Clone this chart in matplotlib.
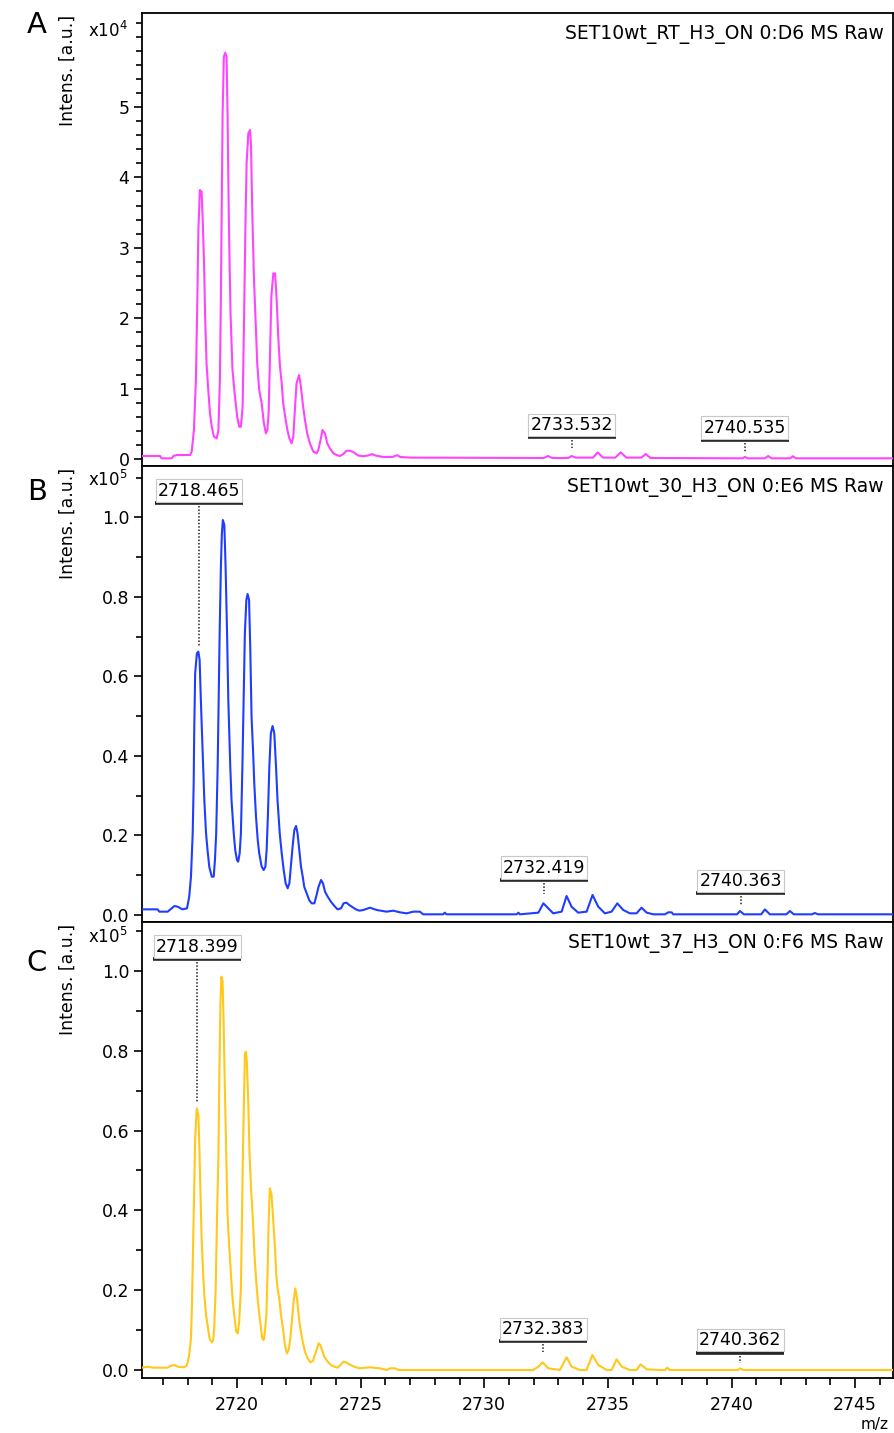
import numpy as np
import matplotlib
matplotlib.use('Agg')
import matplotlib.pyplot as plt
from matplotlib.ticker import MultipleLocator, FormatStrFormatter

# ---- spectrum A : SET10wt_RT_H3_ON 0:D6 (intensity in x10^4) ----
a_mz = [2716.16, 2716.89, 2716.95, 2717.36, 2717.43, 2717.56, 2718.10, 2718.17, 2718.26, 2718.34,
        2718.40, 2718.44, 2718.50, 2718.57, 2718.61, 2718.67, 2718.71, 2718.77, 2718.84, 2718.91,
        2718.98, 2719.07, 2719.18, 2719.25, 2719.31, 2719.35, 2719.39, 2719.42, 2719.47, 2719.53,
        2719.58, 2719.62, 2719.66, 2719.69, 2719.74, 2719.82, 2719.92, 2720.01, 2720.09, 2720.16,
        2720.23, 2720.28, 2720.34, 2720.39, 2720.46, 2720.53, 2720.57, 2720.62, 2720.69, 2720.77,
        2720.82, 2720.90, 2721.00, 2721.09, 2721.17, 2721.23, 2721.28, 2721.33, 2721.39, 2721.47,
        2721.54, 2721.60, 2721.67, 2721.74, 2721.81, 2721.87, 2721.95, 2722.04, 2722.12, 2722.21,
        2722.28, 2722.35, 2722.41, 2722.51, 2722.57, 2722.66, 2722.75, 2722.84, 2722.95, 2723.09,
        2723.22, 2723.29, 2723.38, 2723.46, 2723.56, 2723.65, 2723.76, 2723.90, 2724.03, 2724.17,
        2724.30, 2724.43, 2724.57, 2724.70, 2724.90, 2725.10, 2725.30, 2725.46, 2725.60, 2725.90,
        2726.30, 2726.47, 2726.60, 2727.00, 2732.40, 2732.58, 2732.75, 2733.40, 2733.53, 2733.70,
        2734.40, 2734.59, 2734.80, 2735.30, 2735.52, 2735.75, 2736.35, 2736.53, 2736.72, 2740.45,
        2740.54, 2740.65, 2741.35, 2741.48, 2741.62, 2742.38, 2742.48, 2742.60, 2746.53]
a_int = [0.043, 0.043, 0.010, 0.010, 0.043, 0.057, 0.057, 0.104, 0.412, 1.122,
         2.306, 3.253, 3.821, 3.797, 3.442, 2.779, 2.069, 1.359, 0.980, 0.649,
         0.459, 0.317, 0.294, 0.412, 1.122, 2.306, 3.726, 4.910, 5.715, 5.772,
         5.715, 4.910, 3.726, 3.016, 2.069, 1.264, 0.885, 0.601, 0.459, 0.459,
         0.743, 1.832, 3.253, 4.200, 4.626, 4.673, 4.437, 3.490, 2.543, 1.832,
         1.359, 0.980, 0.791, 0.507, 0.365, 0.412, 0.649, 1.359, 2.306, 2.637,
         2.637, 2.306, 1.738, 1.312, 1.075, 0.791, 0.601, 0.412, 0.294, 0.223,
         0.317, 0.743, 1.075, 1.193, 1.075, 0.791, 0.554, 0.365, 0.223, 0.104,
         0.081, 0.128, 0.270, 0.412, 0.365, 0.223, 0.152, 0.081, 0.057, 0.043,
         0.071, 0.118, 0.118, 0.100, 0.050, 0.040, 0.050, 0.070, 0.050, 0.030,
         0.030, 0.055, 0.030, 0.020, 0.015, 0.043, 0.015, 0.015, 0.043, 0.020,
         0.020, 0.095, 0.020, 0.020, 0.095, 0.020, 0.020, 0.071, 0.015, 0.010,
         0.030, 0.010, 0.010, 0.043, 0.010, 0.010, 0.040, 0.010, 0.010]

# ---- spectrum B : SET10wt_30_H3_ON 0:E6 (intensity in x10^5) ----
b_mz = [2716.16, 2716.79, 2716.86, 2717.20, 2717.47, 2717.60, 2717.80, 2717.98, 2718.07, 2718.14,
        2718.21, 2718.25, 2718.27, 2718.31, 2718.38, 2718.44, 2718.49, 2718.54, 2718.61, 2718.68,
        2718.75, 2718.81, 2718.88, 2718.98, 2719.06, 2719.11, 2719.16, 2719.22, 2719.26, 2719.30,
        2719.35, 2719.39, 2719.43, 2719.49, 2719.54, 2719.60, 2719.65, 2719.73, 2719.78, 2719.87,
        2719.93, 2720.00, 2720.05, 2720.11, 2720.16, 2720.22, 2720.27, 2720.32, 2720.38, 2720.43,
        2720.49, 2720.54, 2720.59, 2720.65, 2720.70, 2720.77, 2720.84, 2720.90, 2721.00, 2721.08,
        2721.15, 2721.20, 2721.25, 2721.31, 2721.37, 2721.44, 2721.51, 2721.58, 2721.64, 2721.73,
        2721.81, 2721.89, 2721.97, 2722.05, 2722.12, 2722.18, 2722.25, 2722.32, 2722.39, 2722.45,
        2722.52, 2722.59, 2722.66, 2722.72, 2722.82, 2722.92, 2723.02, 2723.13, 2723.22, 2723.30,
        2723.40, 2723.48, 2723.56, 2723.67, 2723.80, 2723.94, 2724.07, 2724.21, 2724.31, 2724.43,
        2724.54, 2724.68, 2724.81, 2724.95, 2725.11, 2725.38, 2725.65, 2726.05, 2726.32, 2726.59,
        2726.86, 2727.13, 2727.40, 2727.53, 2728.34, 2728.40, 2728.48, 2731.31, 2731.38, 2731.44,
        2732.19, 2732.39, 2732.59, 2732.79, 2733.13, 2733.33, 2733.53, 2733.80, 2734.14, 2734.38,
        2734.61, 2734.88, 2735.15, 2735.38, 2735.62, 2735.89, 2736.16, 2736.36, 2736.57, 2736.84,
        2737.31, 2737.44, 2737.58, 2737.64, 2740.22, 2740.34, 2740.50, 2741.20, 2741.35, 2741.55,
        2742.22, 2742.36, 2742.52, 2743.25, 2743.37, 2743.50, 2746.53]
b_int = [0.0142, 0.0142, 0.0084, 0.0084, 0.0226, 0.0209, 0.0142, 0.0168, 0.0461, 0.0964,
         0.2054, 0.3311, 0.4568, 0.6077, 0.6580, 0.6621, 0.6412, 0.5406, 0.4149, 0.2892,
         0.2054, 0.1634, 0.1215, 0.0964, 0.0964, 0.1383, 0.2054, 0.3730, 0.5406, 0.7082,
         0.8759, 0.9597, 0.9932, 0.9806, 0.8759, 0.7082, 0.5406, 0.3730, 0.2892, 0.2054,
         0.1634, 0.1383, 0.1341, 0.1551, 0.2054, 0.3730, 0.5406, 0.7082, 0.7920, 0.8071,
         0.7920, 0.6663, 0.4987, 0.4149, 0.3311, 0.2473, 0.1886, 0.1551, 0.1215, 0.1131,
         0.1215, 0.1634, 0.2473, 0.3730, 0.4568, 0.4752, 0.4568, 0.3730, 0.2892, 0.2054,
         0.1551, 0.1131, 0.0796, 0.0671, 0.0796, 0.1215, 0.1718, 0.2137, 0.2238, 0.2054,
         0.1634, 0.1215, 0.0964, 0.0712, 0.0545, 0.0377, 0.0293, 0.0293, 0.0503, 0.0712,
         0.0880, 0.0796, 0.0587, 0.0461, 0.0335, 0.0226, 0.0142, 0.0168, 0.0293, 0.0310,
         0.0251, 0.0193, 0.0142, 0.0109, 0.0126, 0.0184, 0.0126, 0.0084, 0.0109, 0.0067,
         0.0042, 0.0084, 0.0084, 0.0017, 0.0017, 0.0059, 0.0017, 0.0017, 0.0059, 0.0017,
         0.0059, 0.0293, 0.0168, 0.0042, 0.0084, 0.0478, 0.0209, 0.0059, 0.0084, 0.0503,
         0.0209, 0.0042, 0.0084, 0.0293, 0.0126, 0.0042, 0.0042, 0.0184, 0.0059, 0.0017,
         0.0017, 0.0067, 0.0067, 0.0017, 0.0017, 0.0100, 0.0017, 0.0017, 0.0140, 0.0017,
         0.0017, 0.0100, 0.0017, 0.0017, 0.0050, 0.0017, 0.0017]

# ---- spectrum C : SET10wt_37_H3_ON 0:F6 (intensity in x10^5) ----
c_mz = [2716.16, 2716.39, 2716.59, 2717.20, 2717.33, 2717.47, 2717.60, 2717.87, 2717.98, 2718.07,
        2718.14, 2718.18, 2718.22, 2718.27, 2718.31, 2718.36, 2718.38, 2718.44, 2718.48, 2718.52,
        2718.57, 2718.63, 2718.68, 2718.75, 2718.81, 2718.89, 2718.98, 2719.04, 2719.08, 2719.14,
        2719.19, 2719.25, 2719.29, 2719.33, 2719.37, 2719.42, 2719.46, 2719.51, 2719.57, 2719.62,
        2719.69, 2719.76, 2719.82, 2719.89, 2719.97, 2720.03, 2720.09, 2720.16, 2720.20, 2720.24,
        2720.28, 2720.32, 2720.36, 2720.40, 2720.46, 2720.51, 2720.57, 2720.65, 2720.71, 2720.78,
        2720.86, 2720.94, 2721.02, 2721.08, 2721.13, 2721.19, 2721.24, 2721.28, 2721.33, 2721.40,
        2721.47, 2721.54, 2721.59, 2721.64, 2721.71, 2721.78, 2721.86, 2721.94, 2722.02, 2722.09,
        2722.16, 2722.22, 2722.29, 2722.36, 2722.43, 2722.48, 2722.56, 2722.66, 2722.75, 2722.86,
        2722.97, 2723.07, 2723.15, 2723.24, 2723.30, 2723.37, 2723.44, 2723.53, 2723.67, 2723.80,
        2723.94, 2724.07, 2724.18, 2724.31, 2724.41, 2724.54, 2724.74, 2724.95, 2725.38, 2725.78,
        2726.05, 2726.19, 2726.39, 2726.52, 2731.98, 2732.19, 2732.36, 2732.59, 2733.06, 2733.33,
        2733.53, 2733.87, 2734.14, 2734.37, 2734.61, 2734.95, 2735.15, 2735.35, 2735.56, 2735.89,
        2736.16, 2736.32, 2736.57, 2737.10, 2737.31, 2737.40, 2737.51, 2740.25, 2740.36, 2740.48,
        2746.53]
c_int = [0.0058, 0.0083, 0.0058, 0.0058, 0.0108, 0.0125, 0.0083, 0.0067, 0.0125, 0.0376,
         0.0794, 0.1629, 0.2882, 0.4553, 0.5806, 0.6391, 0.6558, 0.6391, 0.5556, 0.4553,
         0.3300, 0.2464, 0.1880, 0.1378, 0.1128, 0.0794, 0.0693, 0.0752, 0.1044, 0.2047,
         0.3718, 0.5388, 0.7477, 0.9148, 0.9858, 0.9733, 0.8730, 0.7059, 0.5388, 0.3885,
         0.3049, 0.2381, 0.1796, 0.1378, 0.0961, 0.0919, 0.1211, 0.2047, 0.3718, 0.5388,
         0.6642, 0.7895, 0.7978, 0.7728, 0.6642, 0.5388, 0.4553, 0.3718, 0.2882, 0.2214,
         0.1629, 0.1211, 0.0794, 0.0752, 0.0961, 0.1378, 0.2464, 0.3718, 0.4553, 0.4386,
         0.3718, 0.3049, 0.2381, 0.2047, 0.1796, 0.1378, 0.1044, 0.0627, 0.0418, 0.0501,
         0.0794, 0.1211, 0.1713, 0.2047, 0.1796, 0.1462, 0.1044, 0.0710, 0.0459, 0.0292,
         0.0192, 0.0226, 0.0376, 0.0543, 0.0668, 0.0627, 0.0501, 0.0334, 0.0209, 0.0125,
         0.0083, 0.0058, 0.0125, 0.0209, 0.0192, 0.0142, 0.0083, 0.0042, 0.0067, 0.0042,
         0.0000, 0.0042, 0.0042, 0.0000, 0.0000, 0.0084, 0.0192, 0.0042, 0.0000, 0.0318,
         0.0084, 0.0000, 0.0000, 0.0376, 0.0125, 0.0000, 0.0000, 0.0267, 0.0084, 0.0000,
         0.0000, 0.0142, 0.0017, 0.0000, 0.0000, 0.0058, 0.0000, 0.0000, 0.0040, 0.0000,
         0.0000]

# peak labels
a_peaks = [2733.532, 2740.535]
b_peaks = [2718.465, 2732.419, 2740.363]
c_peaks = [2718.399, 2732.383, 2740.362]

titles = ['SET10wt_RT_H3_ON 0:D6 MS Raw',
          'SET10wt_30_H3_ON 0:E6 MS Raw',
          'SET10wt_37_H3_ON 0:F6 MS Raw']
letters = ['A', 'B', 'C']
exponents = [4, 5, 5]
colors = ['#ff44ff', '#1f3cff', '#ffc81a']

# layout (label underline height / dotted line end, in axis units)
label_ul = [[0.31, 0.27], [1.036, 0.088, 0.055], [1.030, 0.072, 0.043]]
label_tip = [[0.16, 0.10], [0.675, 0.053, 0.025], [0.67, 0.045, 0.018]]

plt.rcParams['font.family'] = 'DejaVu Sans'

fig = plt.figure(figsize=(8.95, 14.33), dpi=100)
left, width = 142 / 895, 751 / 895
boxes = [(13, 466), (466, 922), (922, 1377.5)]
ylims = [(-0.099, 6.335), (-0.0176, 1.129), (-0.0188, 1.1228)]
exp_pos = [6.08, 1.095, 1.085]
xlim = (2716.16, 2746.53)

spectra = [(a_mz, a_int, a_peaks), (b_mz, b_int, b_peaks), (c_mz, c_int, c_peaks)]

for i, (mz, inten, peaks) in enumerate(spectra):
    top, bot = boxes[i]
    ax = fig.add_axes([left, 1 - bot / 1433, width, (bot - top) / 1433])
    ax.plot(mz, inten, color=colors[i], lw=1.5, zorder=3)
    ax.set_xlim(*xlim)
    ax.set_ylim(*ylims[i])
    for s in ax.spines.values():
        s.set_linewidth(1.3)

    # y axis
    if i == 0:
        ax.set_yticks([0, 1, 2, 3, 4, 5])
        ax.yaxis.set_minor_locator(MultipleLocator(0.2))
        ax.yaxis.set_major_formatter(FormatStrFormatter('%d'))
    else:
        ax.set_yticks([0.0, 0.2, 0.4, 0.6, 0.8, 1.0])
        ax.yaxis.set_minor_locator(MultipleLocator(0.1))
        ax.yaxis.set_major_formatter(FormatStrFormatter('%.1f'))
    ax.tick_params(axis='y', which='major', direction='out', length=6, width=1.2,
                   labelsize=12.5, pad=3)
    ax.tick_params(axis='y', which='minor', direction='out', length=4, width=1.2)
    ax.text(-0.019, exp_pos[i], 'x10$^{%d}$' % exponents[i], transform=ax.get_yaxis_transform(),
            ha='right', va='center', fontsize=12)

    # x axis only on the bottom panel
    if i == 2:
        ax.xaxis.set_major_locator(MultipleLocator(5))
        ax.xaxis.set_minor_locator(MultipleLocator(1))
        ax.tick_params(axis='x', which='major', direction='out', length=7, width=1.2,
                       labelsize=12.5, pad=6)
        ax.tick_params(axis='x', which='minor', direction='out', length=5, width=1.2)
    else:
        ax.set_xticks([])

    ax.text(0.988, 0.952, titles[i], transform=ax.transAxes, ha='right', va='center',
            fontsize=13.5)

    # peak labels: boxed text, thick underline, dotted drop line
    for j, p in enumerate(peaks):
        yu = label_ul[i][j]
        ax.plot([p - 1.78, p + 1.78], [yu, yu], color='#222222', lw=2.6,
                solid_capstyle='butt', zorder=5)
        ax.annotate('%.3f' % p, xy=(p, yu), xytext=(0, 2.5), textcoords='offset points',
                    ha='center', va='bottom', fontsize=12.5, zorder=6,
                    bbox=dict(boxstyle='square,pad=0.12', fc='white', ec='#c8c8c8', lw=0.8))
        dy = (ylims[i][1] - ylims[i][0]) * 0.006
        ax.plot([p, p], [yu - dy, label_tip[i][j]], color='#222222', lw=1.1,
                ls=(0, (1, 1.2)), zorder=4)

    fig.text(37 / 895, 1 - [25, 492, 963][i] / 1433, letters[i], ha='center', va='center',
             fontsize=21)
    fig.text(68 / 895, 1 - (top + 2) / 1433, 'Intens. [a.u.]', rotation=90,
             ha='center', va='top', fontsize=12.5)

fig.text(889 / 895, 1 - 1424 / 1433, 'm/z', ha='right', va='center', fontsize=11)

fig.savefig('out.png', dpi=100)
